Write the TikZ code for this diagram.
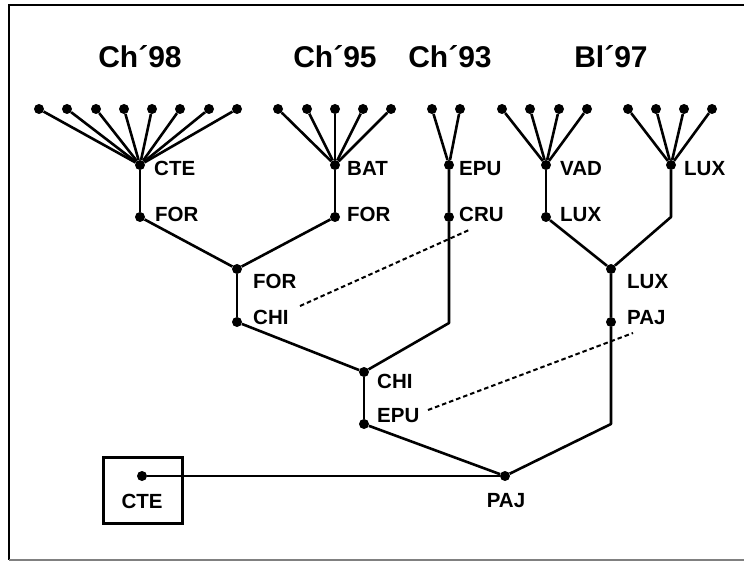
\documentclass[tikz,border=0pt]{standalone}
\usepackage{fontspec}
\setmainfont{Liberation Sans}
\begin{document}
\begin{tikzpicture}[x=1pt,y=-1pt,
  dot/.style={circle,fill=black,inner sep=0pt,minimum size=10pt},
  edge/.style={line width=2.6pt,line join=round},
  dotted link/.style={line width=2pt,dash pattern=on 4.5pt off 3pt},
  lab/.style={anchor=base west,inner sep=0pt,font=\fontsize{20.5}{20.5}\selectfont\bfseries},
  title/.style={anchor=base,inner sep=0pt,font=\fontsize{30}{30}\selectfont\bfseries},
  frame/.style={line width=2pt}]
\useasboundingbox (0,0) rectangle (744,561);
% frame
\draw[frame] (748,5) -- (9,5) -- (9,560);
\draw[line width=1.8pt,gray] (9,560) -- (748,560);
% titles
\node[title] (t98) at (140,68) {Ch´98};
\node[title] (t95) at (335,68) {Ch´95};
\node[title] (t93) at (450,68) {Ch´93};
\node[title] (t97) at (611,68) {Bl´97};
% Ch98 leaves
\foreach \x [count=\i] in {39,67,96,124,152,180,209,237} \node[dot] (a\i) at (\x,109) {};
\node[dot] (cte) at (140,165) {};
\node[dot] (for1) at (140,217) {};
\foreach \i in {1,...,8} \draw[edge] (a\i) -- (cte);
% Ch95
\foreach \x [count=\i] in {278,307,335,363,391} \node[dot] (b\i) at (\x,109) {};
\node[dot] (bat) at (335,165) {};
\node[dot] (for2) at (335,217) {};
\foreach \i in {1,...,5} \draw[edge] (b\i) -- (bat);
% Ch93
\foreach \x [count=\i] in {432,460} \node[dot] (c\i) at (\x,109) {};
\node[dot] (epu1) at (449,165) {};
\node[dot] (cru) at (449,217) {};
\foreach \i in {1,2} \draw[edge] (c\i) -- (epu1);
% Bl97
\foreach \x [count=\i] in {502,530,559,587} \node[dot] (d\i) at (\x,109) {};
\node[dot] (vad) at (546,165) {};
\node[dot] (lux1) at (546,217) {};
\foreach \i in {1,...,4} \draw[edge] (d\i) -- (vad);
\foreach \x [count=\i] in {628,656,684,712} \node[dot] (e\i) at (\x,109) {};
\node[dot] (lux2) at (671,165) {};
\foreach \i in {1,...,4} \draw[edge] (e\i) -- (lux2);
% lower nodes
\node[dot] (for3) at (237,269) {};
\node[dot] (chi1) at (237,322) {};
\node[dot] (lux3) at (611,269) {};
\node[dot] (paj1) at (611,322) {};
\node[dot] (chi2) at (364,372) {};
\node[dot] (epu2) at (364,424) {};
\node[dot] (paj2) at (505,476) {};
\node[dot] (root) at (142,476) {};
\coordinate (k93) at (449,323);
\coordinate (k97) at (671,217);
\coordinate (kpj) at (611,424);
% edges
\draw[edge] (bat) -- (for2);
\draw[edge] (cte) -- (for1);
\draw[edge] (for1) -- (for3);
\draw[edge] (for2) -- (for3);
\draw[edge] (for3) -- (chi1);
\draw[edge] (chi1) -- (chi2);
\draw[edge] (epu1) -- (cru) -- (k93) -- (chi2);
\draw[edge] (chi2) -- (epu2);
\draw[edge] (epu2) -- (paj2);
\draw[edge] (vad) -- (lux1);
\draw[edge] (lux1) -- (lux3);
\draw[edge] (lux2) -- (k97) -- (lux3);
\draw[edge] (lux3) -- (paj1) -- (kpj) -- (paj2);
\draw[edge] (root) -- (paj2);
% root box
\node[draw,line width=3pt,inner sep=0pt,minimum width=79pt,minimum height=66pt] (box) at (142.5,490) {};
% labels
\node[lab] (lcte) at (154,176) {CTE};
\node[lab] (lfor1) at (155,222) {FOR};
\node[lab] (lbat) at (347,176) {BAT};
\node[lab] (lfor2) at (347,222) {FOR};
\node[lab] (lepu1) at (459,176) {EPU};
\node[lab] (lcru) at (459,222) {CRU};
\node[lab] (lvad) at (560,176) {VAD};
\node[lab] (llux1) at (560,222) {LUX};
\node[lab] (llux2) at (684,176) {LUX};
\node[lab] (lfor3) at (253,288) {FOR};
\node[lab] (lchi1) at (253,324) {CHI};
\node[lab] (llux3) at (627,288) {LUX};
\node[lab] (lpaj1) at (627,324) {PAJ};
\node[lab] (lchi2) at (377,388) {CHI};
\node[lab] (lepu2) at (377,422) {EPU};
\node[lab,anchor=base] (lpaj2) at (506,507) {PAJ};
\node[lab,anchor=base] (lroot) at (142,508) {CTE};
% dashed links
\coordinate (dA1) at (300,306);
\coordinate (dA2) at (469,230);
\coordinate (dB1) at (428,410);
\coordinate (dB2) at (633,333);
\draw[dotted link] (dA1) -- (dA2);
\draw[dotted link] (dB1) -- (dB2);
\end{tikzpicture}
\end{document}
